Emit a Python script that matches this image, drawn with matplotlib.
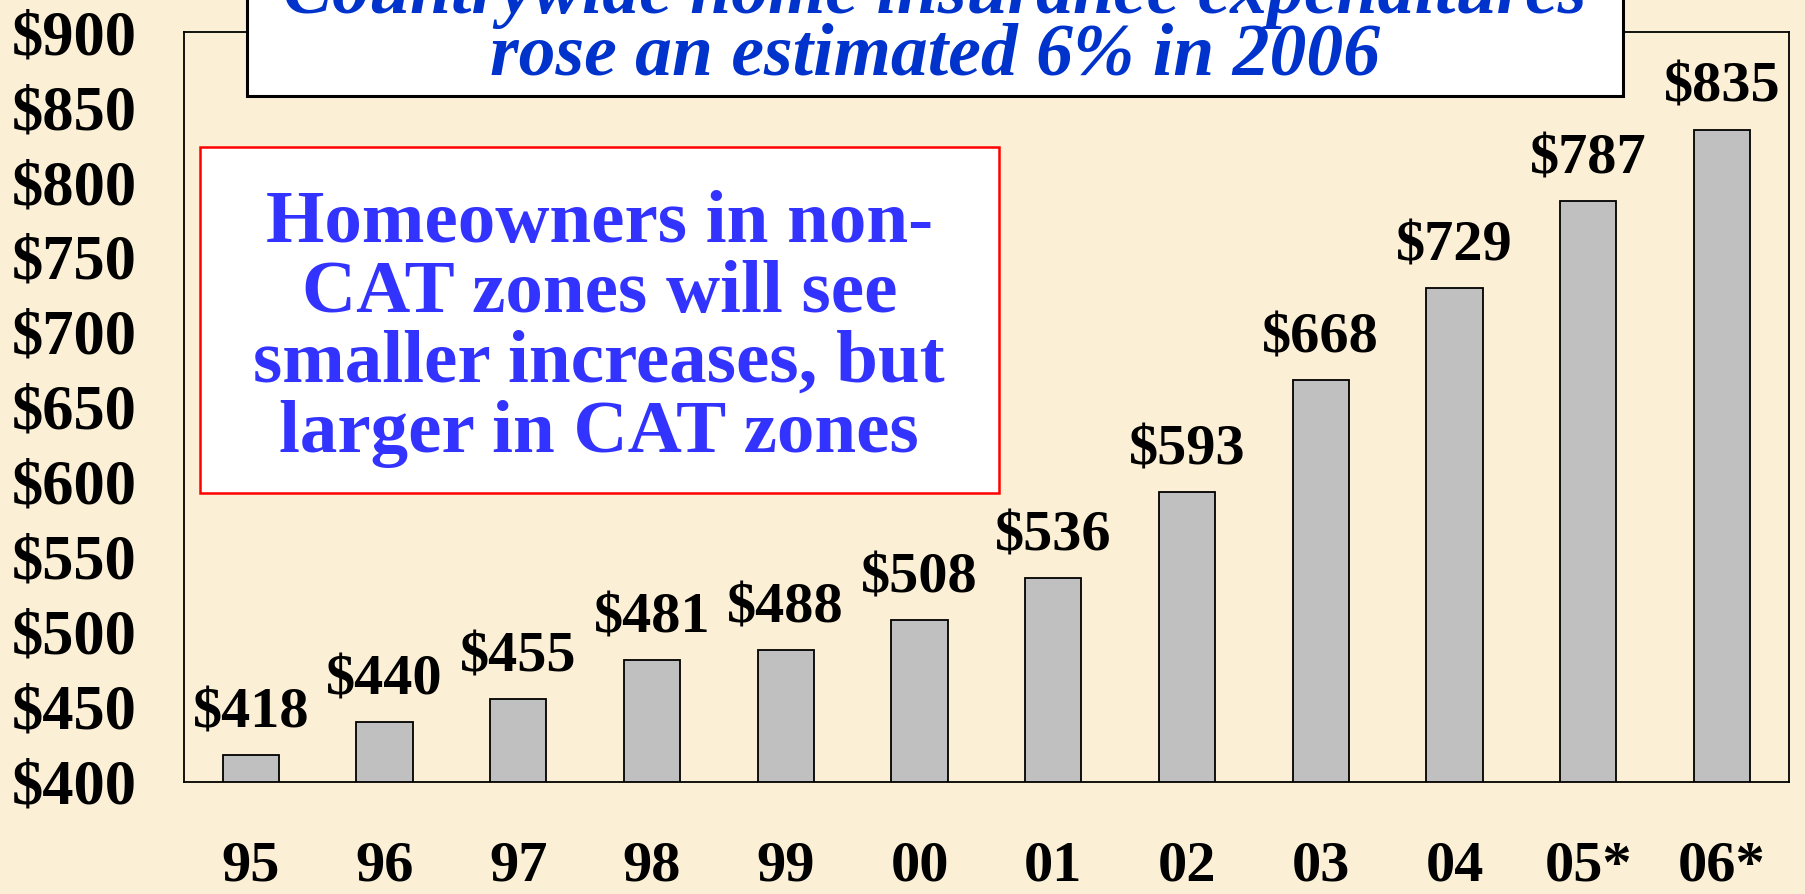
import numpy as np
import matplotlib
matplotlib.use('Agg')
import matplotlib.pyplot as plt
from matplotlib.patches import Rectangle

## data

years = ['95', '96', '97', '98', '99', '00', '01', '02', '03', '04', '05*', '06*']
expenditure = [418, 440, 455, 481, 488, 508, 536, 593, 668, 729, 787, 835]
yticks = [400, 450, 500, 550, 600, 650, 700, 750, 800, 850, 900]

title_lines = ['Countrywide home insurance expenditures',
               'rose an estimated 6% in 2006']
note = 'Homeowners in non-\nCAT zones will see\nsmaller increases, but\nlarger in CAT zones'

bg = '#FBF0D6'
serif = 'Liberation Serif'

##

fig = plt.figure(figsize=(18.05, 8.94), dpi=100, facecolor=bg)
ax = fig.add_axes([0.1019, 0.1253, 0.8892, 0.8389], facecolor=bg)

x = np.arange(len(years))
bars = ax.bar(x, expenditure, width=0.42, color='#C0C0C0',
              edgecolor='black', linewidth=1.3)

for xi, v in zip(x, expenditure):
    ax.annotate('$%d' % v, (xi, v), xytext=(0, 20), textcoords='offset points',
                ha='center', va='baseline', fontsize=42, fontweight='bold',
                family=serif, color='black')

ax.set_xlim(-0.5, len(years) - 0.5)
ax.set_ylim(400, 900)
ax.set_xticks(x)
ax.set_xticklabels(years)
ax.set_yticks(yticks)
ax.set_yticklabels(['$%d' % t for t in yticks])
ax.tick_params(axis='both', length=0, labelsize=42)
ax.tick_params(axis='y', pad=34, labelsize=45)
ax.tick_params(axis='x', pad=42, labelsize=42)
for lab in ax.get_xticklabels() + ax.get_yticklabels():
    lab.set_family(serif)
    lab.set_fontweight('bold')
for sp in ax.spines.values():
    sp.set_linewidth(1.3)

# title box, partly cut off at the top of the slide
fig.patches.append(Rectangle((0.1368, 0.8926), 0.7624, 0.2, transform=fig.transFigure,
                             facecolor='white', edgecolor='black', linewidth=2.2,
                             zorder=5))
fig.text(0.518, 1.006, title_lines[0], ha='center', va='center', fontsize=53,
         family=serif, fontweight='bold', style='italic', color='#0033CC', zorder=6)
fig.text(0.518, 0.937, title_lines[1], ha='center', va='center', fontsize=53,
         family=serif, fontweight='bold', style='italic', color='#0033CC', zorder=6)

# note box
fig.patches.append(Rectangle((0.1108, 0.4485), 0.4427, 0.3871, transform=fig.transFigure,
                             facecolor='white', edgecolor='#FF0000', linewidth=1.8,
                             zorder=5))
fig.text(0.332, 0.632, note, ha='center', va='center', fontsize=54, linespacing=1.04,
         family=serif, fontweight='bold', color='#3333FF', zorder=6)

plt.savefig('out.png', dpi=100, facecolor=bg)
